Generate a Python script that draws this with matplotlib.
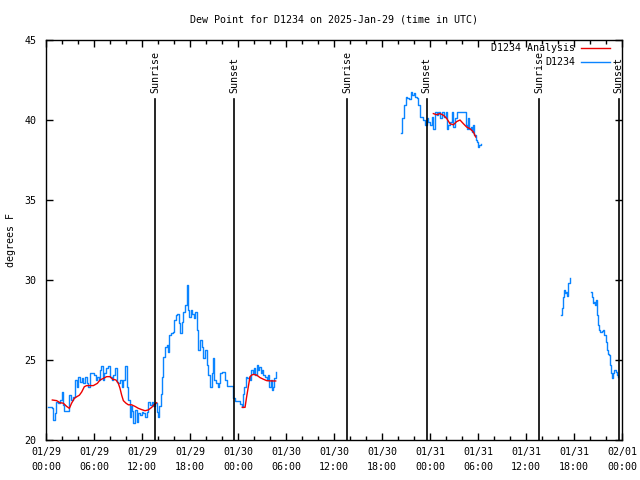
import numpy as np
import pandas as pd
import matplotlib
matplotlib.use('Agg')
import matplotlib.pyplot as plt
import matplotlib.dates as mdates
from matplotlib.lines import Line2D

plt.rcParams['font.family'] = ['DejaVu Sans Mono']
plt.rcParams['font.size'] = 7.2

base = pd.Timestamp('2025-01-29 00:00')

# ---- observed dew point (hours since 01/29 00:00 UTC, deg F), gaps split segments ----
obs_h1 = [0.29, 0.71, 0.92, 1.1, 1.3, 1.5, 1.75, 1.96, 2.08, 2.25, 2.79, 2.92, 3.08, 3.33,
          3.63, 3.83, 4.04, 4.25, 4.46, 4.67, 4.88, 5.08, 5.29, 5.5, 5.83, 6.04, 6.2, 6.42,
          6.63, 6.75, 6.92, 7.08, 7.29, 7.5, 7.79, 8.0, 8.2, 8.42, 8.63, 8.83, 9.04, 9.25,
          9.46, 9.67, 9.88, 10.08, 10.29, 10.5, 10.63, 10.79, 10.92, 11.13, 11.33, 11.54,
          11.75, 11.96, 12.17, 12.38, 12.58, 12.79, 13.0, 13.21, 13.42, 13.63, 13.83, 14.04,
          14.17, 14.33, 14.5, 14.67, 14.88, 15.08, 15.2, 15.42, 15.63, 15.83, 16.04, 16.25,
          16.42, 16.58, 16.75, 16.96, 17.17, 17.38, 17.58, 17.75, 17.92, 18.08, 18.25, 18.46,
          18.63, 18.83, 19.04, 19.25, 19.46, 19.67, 19.88, 20.08, 20.29, 20.5, 20.7, 20.83,
          21.0, 21.2, 21.46, 21.67, 21.8, 22.0, 22.3, 22.42, 22.58, 23.0, 23.2, 23.42, 23.63,
          23.8, 24.25, 24.54, 24.67, 24.79, 24.96, 25.17, 25.38, 25.5, 25.67, 25.83, 26.0,
          26.17, 26.33, 26.5, 26.67, 26.83, 27.0, 27.17, 27.38, 27.58, 27.75, 27.92, 28.08,
          28.21, 28.38, 28.54, 28.71]
obs_v1 = [22.04, 21.98, 21.25, 21.7, 22.4, 22.3, 22.5, 23.0, 22.2, 21.8, 21.8, 22.8, 22.5, 22.7,
          23.75, 23.3, 23.96, 23.65, 23.85, 23.56, 23.96, 23.56, 23.33, 24.17, 24.2, 24.06, 23.75, 23.96,
          23.75, 24.38, 24.63, 23.75, 24.17, 24.48, 24.6, 23.96, 23.75, 24.06, 24.48, 23.65, 23.54, 23.75,
          23.33, 23.75, 24.6, 23.33, 22.5, 21.46, 22.1, 21.8, 21.04, 21.9, 21.15, 21.67,
          21.56, 21.77, 21.67, 21.46, 21.77, 22.4, 22.2, 22.4, 22.1, 22.3, 21.77, 21.46,
          22.1, 22.9, 23.96, 25.2, 25.83, 25.94, 25.5, 26.56, 26.67, 26.77, 27.5, 27.8,
          27.9, 27.3, 26.67, 27.4, 28.0, 28.44, 29.69, 28.1, 27.7, 28.1, 27.9, 27.6,
          28.0, 26.9, 25.6, 26.25, 25.83, 25.1, 25.6, 24.7, 24.06, 23.33, 24.17, 25.1,
          23.75, 23.54, 23.33, 23.54, 24.17, 24.27, 24.27, 23.75, 23.4, 23.4, 23.4, 22.6, 22.46,
          22.46, 22.25, 22.04, 22.9, 23.33, 23.96, 23.85, 23.96, 23.75, 24.38, 24.17, 24.48,
          24.06, 24.69, 24.38, 24.58, 24.17, 24.38, 24.06, 23.96, 23.75, 24.06, 23.33, 23.75,
          23.13, 23.33, 23.85, 24.27]

obs_h2 = [44.38, 44.54, 44.75, 44.96, 45.17, 45.38, 45.58, 45.79, 45.96, 46.13, 46.33, 46.54,
          46.75, 46.96, 47.17, 47.38, 47.58, 47.79, 48.0, 48.2, 48.42, 48.63, 48.83, 49.04,
          49.25, 49.46, 49.67, 49.79, 49.96, 50.08, 50.29, 50.5, 50.71, 50.92, 51.13, 51.33,
          51.96, 52.38, 52.46, 52.58, 52.79, 52.92, 53.13, 53.29, 53.42, 53.54, 53.71, 53.83,
          53.96, 54.13, 54.38]
obs_v2 = [39.17, 40.1, 40.94, 41.46, 41.4, 41.3, 41.77, 41.56, 41.67, 41.46, 41.35, 40.94,
          40.2, 40.2, 40.0, 39.67, 40.1, 39.9, 39.67, 40.2, 39.46, 40.5, 40.3, 40.5,
          40.1, 40.5, 40.5, 40.2, 40.5, 39.46, 39.67, 39.9, 40.5, 39.56, 40.1, 40.5,
          40.5, 40.5, 39.67, 39.46, 40.1, 39.46, 39.56, 39.25, 39.67, 39.04, 38.75, 38.65,
          38.33, 38.44, 38.48]

obs_h3 = [64.38, 64.46, 64.58, 64.71, 64.88, 65.04, 65.17, 65.29, 65.46]
obs_v3 = [27.8, 28.23, 28.96, 29.38, 29.2, 29.27, 29.0, 29.79, 30.1]

obs_h4 = [68.13, 68.25, 68.33, 68.5, 68.63, 68.71, 68.83, 68.96, 69.08, 69.29, 69.5, 69.67,
          69.79, 69.96, 70.08, 70.21, 70.38, 70.5, 70.63, 70.79, 70.92, 71.04, 71.21, 71.38,
          71.54]
obs_v4 = [29.27, 28.96, 28.54, 28.65, 28.44, 28.75, 27.8, 27.19, 26.88, 26.77, 26.8, 26.9,
          26.56, 26.15, 25.63, 25.38, 25.3, 24.69, 24.17, 23.85, 24.17, 24.38, 24.27, 24.06,
          23.96]

# ---- analysis ----
ana_h1 = [0.79, 1.33, 1.75, 2.17, 2.58, 2.92, 3.2, 3.54, 3.83, 4.17, 4.46, 4.79, 5.08, 5.92,
          6.42, 6.75, 7.17, 7.58, 8.0, 8.33, 8.75, 9.04, 9.25, 9.46, 9.67, 10.0, 10.29, 10.7,
          11.13, 11.54, 11.96, 12.38, 12.79, 13.21, 13.5, 13.83]
ana_v1 = [22.5, 22.46, 22.33, 22.3, 22.1, 21.98, 22.3, 22.6, 22.7, 22.8, 23.0, 23.33, 23.4, 23.4,
          23.54, 23.75, 23.85, 23.96, 23.96, 23.8, 23.75, 23.54, 23.23, 22.8, 22.46, 22.3, 22.2, 22.2,
          22.1, 21.98, 21.9, 21.83, 21.88, 22.04, 22.2, 22.33]

ana_h2 = [24.54, 24.88, 25.08, 25.29, 25.5, 25.71, 25.92, 26.33, 26.75, 27.17, 27.58, 28.21, 28.71]
ana_v2 = [22.04, 22.04, 22.7, 23.33, 23.96, 24.06, 24.1, 24.06, 23.9, 23.8, 23.71, 23.69, 23.69]

ana_h3 = [48.42, 48.83, 49.25, 49.67, 50.08, 50.5, 50.92, 51.33, 51.75, 52.17, 52.58, 53.0,
          53.42, 53.71]
ana_v3 = [40.4, 40.33, 40.4, 40.3, 40.1, 39.77, 39.7, 39.9, 40.0, 39.77, 39.56, 39.46,
          39.25, 38.94]

sun_names = ['Sunrise', 'Sunset', 'Sunrise', 'Sunset', 'Sunrise', 'Sunset']
sun_times = ['2025-01-29 13:40', '2025-01-29 23:33', '2025-01-30 13:40',
             '2025-01-30 23:34', '2025-01-31 13:39', '2025-01-31 23:35']


def to_time(hours):
    return base + pd.to_timedelta(np.asarray(hours), unit='h')


blue = '#0a84ff'
red = '#ee0000'

fig = plt.figure(figsize=(6.4, 4.8), dpi=100)
ax = fig.add_axes([46/640, 40/480, 576/640, 400/480])

for h, v in [(obs_h1, obs_v1), (obs_h2, obs_v2), (obs_h3, obs_v3), (obs_h4, obs_v4)]:
    ax.plot(to_time(h), v, color=blue, lw=1.0, drawstyle='steps-post')
for h, v in [(ana_h1, ana_v1), (ana_h2, ana_v2), (ana_h3, ana_v3)]:
    ax.plot(to_time(h), v, color=red, lw=1.0)

# sunrise / sunset markers
for name, t in zip(sun_names, sun_times):
    t = pd.Timestamp(t)
    ax.axvline(t, ymin=0, ymax=0.8525, color='black', lw=1.2)
    ax.text(t, 0.8675, name, transform=ax.get_xaxis_transform(), rotation=90,
            ha='center', va='bottom')

ax.set_xlim(base, base + pd.Timedelta(hours=72))
ax.set_ylim(20, 45)
ax.set_yticks([20, 25, 30, 35, 40, 45])
ax.xaxis.set_major_locator(mdates.HourLocator(byhour=[0, 6, 12, 18]))
ax.xaxis.set_minor_locator(mdates.HourLocator(byhour=range(0, 24, 2)))
ax.xaxis.set_major_formatter(mdates.DateFormatter('%m/%d\n%H:%M'))
for lab in ax.get_xticklabels():
    lab.set_linespacing(1.6)
ax.tick_params(which='both', direction='in', top=True, right=True, width=1.0)
ax.tick_params(which='major', length=5)
ax.tick_params(which='minor', length=3)
ax.tick_params(axis='x', pad=5)
ax.tick_params(axis='y', pad=7)
for sp in ax.spines.values():
    sp.set_linewidth(1.0)

# legend, text right-aligned like gnuplot
leg = [('D1234 Analysis', red), ('D1234', blue)]
for i, (lab, col) in enumerate(leg):
    yy = 1 - (8.5 + 13.5*i)/400
    ax.text((575-46)/576, yy, lab, transform=ax.transAxes, ha='right', va='center')
    ax.add_line(Line2D([(581-46)/576, (610-46)/576], [yy, yy], transform=ax.transAxes,
                       color=col, lw=1.0))

fig.text(334/640, 1 - 19/480, 'Dew Point for D1234 on 2025-Jan-29 (time in UTC)',
         ha='center', va='center')
fig.text(11/640, 0.5, 'degrees F', rotation=90, ha='center', va='center')

fig.savefig('out.png', dpi=100)
